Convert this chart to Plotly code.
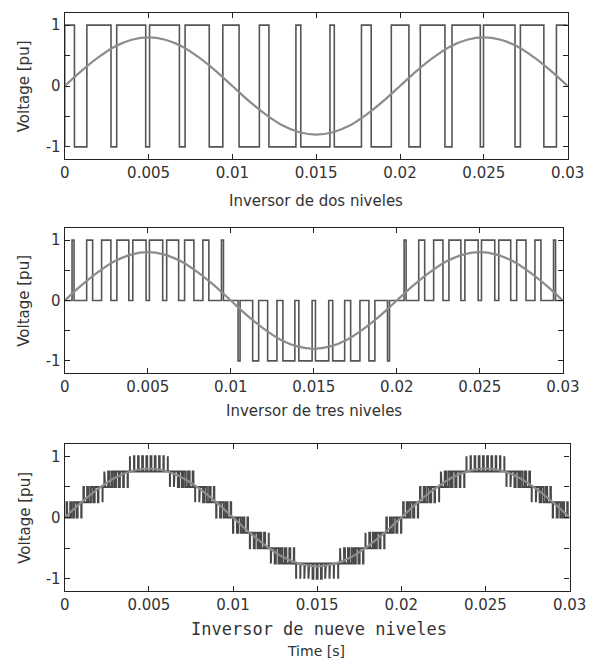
import math
import plotly.graph_objects as go

W, H = 602, 663

# ---------------- data ----------------
x_tickvals = [0, 0.005, 0.01, 0.015, 0.02, 0.025, 0.03]
x_ticktext = ["0", "0.005", "0.01", "0.015", "0.02", "0.025", "0.03"]
y_tickvals = [-1, -0.5, 0, 0.5, 1]
y_ticktext = ["-1", "", "0", "", "1"]

panel_titles = ["Inversor de dos niveles", "Inversor de tres niveles", "Inversor de nueve niveles"]
y_title = "Voltage [pu]"
x_title = "Time [s]"

# reference (modulating) sine, read every 1 ms
ref_t = [0.000, 0.001, 0.002, 0.003, 0.004, 0.005, 0.006, 0.007, 0.008, 0.009,
         0.010, 0.011, 0.012, 0.013, 0.014, 0.015, 0.016, 0.017, 0.018, 0.019,
         0.020, 0.021, 0.022, 0.023, 0.024, 0.025, 0.026, 0.027, 0.028, 0.029, 0.030]
ref_v = [0.00, 0.25, 0.47, 0.65, 0.76, 0.80, 0.76, 0.65, 0.47, 0.25,
         0.00, -0.25, -0.47, -0.65, -0.76, -0.80, -0.76, -0.65, -0.47, -0.25,
         0.00, 0.25, 0.47, 0.65, 0.76, 0.80, 0.76, 0.65, 0.47, 0.25, 0.00]

# two-level inverter: switching instants (s), output starts at +1 and alternates
two_level_start = 1
two_level_switch = [0.00058, 0.00132, 0.00276, 0.00310, 0.00483, 0.00506, 0.00684, 0.00718,
                    0.00862, 0.00943, 0.01040, 0.01161, 0.01218, 0.01379, 0.01408, 0.01582,
                    0.01608, 0.01770, 0.01828, 0.01948, 0.02053, 0.02121, 0.02268, 0.02310,
                    0.02479, 0.02498, 0.02686, 0.02718, 0.02858, 0.02933]

# three-level inverter: pulses (on, off, level)
three_level_on = [0.00044, 0.00132, 0.00222, 0.00314, 0.00410, 0.00510, 0.00614, 0.00722, 0.00832, 0.00944,
                  0.01044, 0.01132, 0.01222, 0.01314, 0.01410, 0.01510, 0.01614, 0.01722, 0.01832, 0.01944,
                  0.02044, 0.02132, 0.02222, 0.02314, 0.02410, 0.02510, 0.02614, 0.02722, 0.02832, 0.02944]
three_level_off = [0.00056, 0.00168, 0.00278, 0.00386, 0.00490, 0.00590, 0.00686, 0.00778, 0.00868, 0.00956,
                   0.01056, 0.01168, 0.01278, 0.01386, 0.01490, 0.01590, 0.01686, 0.01778, 0.01868, 0.01956,
                   0.02056, 0.02168, 0.02278, 0.02386, 0.02490, 0.02590, 0.02686, 0.02778, 0.02868, 0.02956]
three_level_level = [1, 1, 1, 1, 1, 1, 1, 1, 1, 1,
                     -1, -1, -1, -1, -1, -1, -1, -1, -1, -1,
                     1, 1, 1, 1, 1, 1, 1, 1, 1, 1]

# nine-level inverter: local mean output per switching period (pu), 0.25 pu steps
nine_level_period = 0.00025
nine_level_step = 0.25
nine_level_mean = [
    0.031, 0.094, 0.156, 0.217, 0.277, 0.335, 0.391, 0.444, 0.495, 0.543,
    0.588, 0.628, 0.665, 0.698, 0.727, 0.751, 0.770, 0.785, 0.795, 0.799,
    0.799, 0.795, 0.785, 0.770, 0.751, 0.727, 0.698, 0.665, 0.628, 0.588,
    0.543, 0.495, 0.444, 0.391, 0.335, 0.277, 0.217, 0.156, 0.094, 0.031,
    -0.031, -0.094, -0.156, -0.217, -0.277, -0.335, -0.391, -0.444, -0.495, -0.543,
    -0.588, -0.628, -0.665, -0.698, -0.727, -0.751, -0.770, -0.785, -0.795, -0.799,
    -0.799, -0.795, -0.785, -0.770, -0.751, -0.727, -0.698, -0.665, -0.628, -0.588,
    -0.543, -0.495, -0.444, -0.391, -0.335, -0.277, -0.217, -0.156, -0.094, -0.031,
    0.031, 0.094, 0.156, 0.217, 0.277, 0.335, 0.391, 0.444, 0.495, 0.543,
    0.588, 0.628, 0.665, 0.698, 0.727, 0.751, 0.770, 0.785, 0.795, 0.799,
    0.799, 0.795, 0.785, 0.770, 0.751, 0.727, 0.698, 0.665, 0.628, 0.588,
    0.543, 0.495, 0.444, 0.391, 0.335, 0.277, 0.217, 0.156, 0.094, 0.031,
]

T_END = 0.03

# ---------------- build step paths ----------------
def two_level_path():
    xs, ys = [0, 0], [-two_level_start, two_level_start]
    cur = two_level_start
    for t in two_level_switch:
        xs += [t, t]
        ys += [cur, -cur]
        cur = -cur
    xs.append(T_END)
    ys.append(cur)
    return xs, ys


def three_level_path():
    xs, ys = [0], [0]
    for on, off, lv in zip(three_level_on, three_level_off, three_level_level):
        xs += [on, on, off, off]
        ys += [0, lv, lv, 0]
    xs.append(T_END)
    ys.append(0)
    return xs, ys


def nine_level_path():
    xs, ys = [], []
    T = nine_level_period
    for k, m in enumerate(nine_level_mean):
        t0 = k * T
        q = m / nine_level_step
        lo = math.floor(q)
        d = q - lo
        low = lo * nine_level_step
        high = low + nine_level_step
        a = t0 + (1 - d) / 2 * T
        b = a + d * T
        xs += [t0, a, a, b, b, t0 + T]
        ys += [low, low, high, high, low, low]
    return xs, ys


PWM_COLOR = "#555555"
REF_COLOR = "#8c8c8c"
AX_COLOR = "#222222"
TXT_COLOR = "#333333"
FONT = "DejaVu Sans"

fig = go.Figure()
paths = [two_level_path(), three_level_path(), nine_level_path()]
pwm_styles = [("#555555", 1.6), ("#555555", 1.6), ("#484848", 2.0)]
for i, ((xs, ys), (col, wid)) in enumerate(zip(paths, pwm_styles), start=1):
    fig.add_trace(go.Scatter(x=xs, y=ys, mode="lines",
                             line=dict(color=col, width=wid),
                             xaxis=f"x{i}", yaxis=f"y{i}", showlegend=False,
                             hoverinfo="skip"))
    fig.add_trace(go.Scatter(x=ref_t, y=ref_v, mode="lines",
                             line=dict(color=REF_COLOR, width=2.2, shape="spline"),
                             xaxis=f"x{i}", yaxis=f"y{i}", showlegend=False,
                             hoverinfo="skip"))

# panel boxes in pixels: (left, right, top, bottom)
boxes = [(62, 584, 13, 159), (62, 579, 228, 373), (62, 586, 444, 591)]

layout = dict(width=W, height=H, margin=dict(l=0, r=0, t=0, b=0),
              paper_bgcolor="white", plot_bgcolor="white",
              font=dict(family=FONT, size=15, color=TXT_COLOR))

for i, (l, r, t, b) in enumerate(boxes, start=1):
    xd = [l / W, r / W]
    yd = [1 - b / H, 1 - t / H]
    layout[f"xaxis{i}"] = dict(domain=xd, range=[0, T_END], anchor=f"y{i}",
                               tickvals=x_tickvals, ticktext=x_ticktext,
                               ticks="inside", ticklen=5, tickcolor=AX_COLOR,
                               showline=True, linecolor=AX_COLOR, linewidth=1.2,
                               mirror="ticks", showgrid=False, zeroline=False,
                               tickfont=dict(family=FONT, size=15, color=TXT_COLOR))
    layout[f"yaxis{i}"] = dict(domain=yd, range=[-1.2, 1.2], anchor=f"x{i}",
                               tickvals=y_tickvals, ticktext=y_ticktext,
                               ticks="inside", ticklen=5, tickcolor=AX_COLOR,
                               showline=True, linecolor=AX_COLOR, linewidth=1.2,
                               mirror="ticks", showgrid=False, zeroline=False,
                               tickfont=dict(family=FONT, size=15, color=TXT_COLOR))

fig.update_layout(**layout)

annotations = []
# panel titles
title_pos = [(323, 201, FONT, 15), (321, 411, FONT, 15), (326, 629, "DejaVu Sans Mono", 17)]
for text, (px, py, fam, sz) in zip(panel_titles, title_pos):
    annotations.append(dict(text=text, x=px / W, y=1 - py / H, xref="paper", yref="paper",
                            showarrow=False, xanchor="center", yanchor="middle",
                            font=dict(family=fam, size=sz, color=TXT_COLOR)))
# y titles
for (l, r, t, b) in boxes:
    yc = (t + b) / 2
    annotations.append(dict(text=y_title, x=20 / W, y=1 - yc / H, xref="paper", yref="paper",
                            showarrow=False, textangle=-90, xanchor="center", yanchor="middle",
                            font=dict(family=FONT, size=15, color=TXT_COLOR)))
annotations.append(dict(text=x_title, x=323 / W, y=1 - 651 / H, xref="paper", yref="paper",
                        showarrow=False, xanchor="center", yanchor="middle",
                        font=dict(family=FONT, size=14, color=TXT_COLOR)))
fig.update_layout(annotations=annotations)

fig.write_html("out.html", config={"displayModeBar": False},
               post_script="document.body.style.margin='0';")
